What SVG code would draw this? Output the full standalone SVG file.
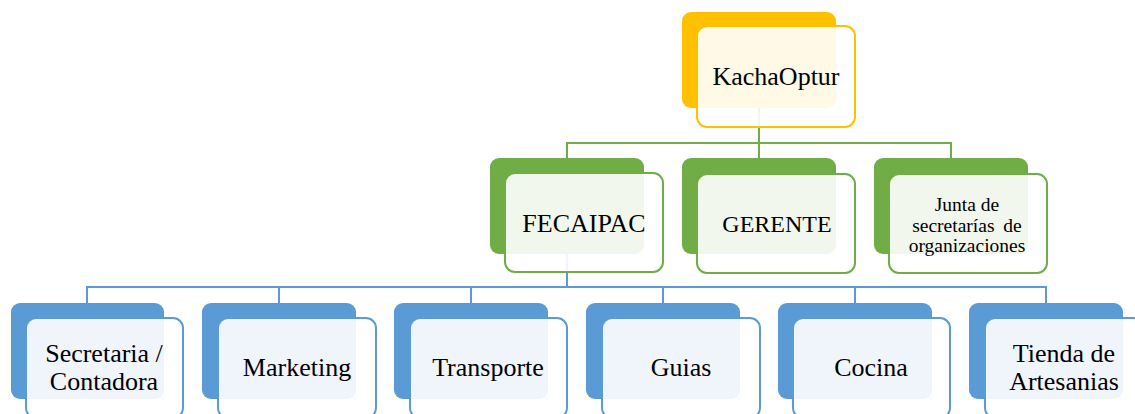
<svg xmlns="http://www.w3.org/2000/svg" width="1135" height="414" viewBox="0 0 1135 414">
<style>
.t{font-family:"Liberation Serif","Times New Roman",serif;fill:#000;text-anchor:middle}
.cg{stroke:#70AD47;stroke-width:2;fill:none}
.cb{stroke:#5B9BD5;stroke-width:2;fill:none}
.by{fill:#FFC000}
.bg{fill:#70AD47}
.bb{fill:#5B9BD5}
.fy{fill:#fff;fill-opacity:0.9;stroke:#FFC000;stroke-width:2}
.fg{fill:#fff;fill-opacity:0.9;stroke:#70AD47;stroke-width:2}
.fb{fill:#fff;fill-opacity:0.9;stroke:#5B9BD5;stroke-width:2}
</style>
<rect width="1135" height="414" fill="#fff"/>
<g id="connectors">
<path class="cg" d="M759 108V143M567 143H952M567 142V158M759 142V158M951 142V158"/>
<path class="cb" d="M567 254V287M87 287H1047M87 286V303M279 286V303M471 286V303M663 286V303M855 286V303M1046 286V303"/>
</g>
<g id="kachaoptur">
<rect class="by" x="682" y="12" width="154" height="96" rx="9"/>
<rect class="fy" x="697" y="26" width="158" height="101" rx="10"/>
<text class="t" x="776" y="85" font-size="26">KachaOptur</text>
</g>
<g id="fecaipac">
<rect class="bg" x="490" y="158" width="154" height="96" rx="9"/>
<rect class="fg" x="505" y="173" width="158" height="99" rx="10"/>
<text class="t" x="584" y="232" font-size="26">FECAIPAC</text>
</g>
<g id="gerente">
<rect class="bg" x="682" y="158" width="154" height="96" rx="9"/>
<rect class="fg" x="697" y="174" width="158" height="99" rx="10"/>
<text class="t" x="777" y="232" font-size="24">GERENTE</text>
</g>
<g id="junta">
<rect class="bg" x="874" y="158" width="154" height="96" rx="9"/>
<rect class="fg" x="889" y="174" width="158" height="99" rx="10"/>
<text class="t" x="967" y="211" font-size="19.5">Junta de</text>
<text class="t" x="967" y="232" font-size="19.5" word-spacing="4">secretarías de</text>
<text class="t" x="967" y="252" font-size="19.5">organizaciones</text>
</g>
<g id="secretaria">
<rect class="bb" x="11" y="303" width="153" height="96" rx="9"/>
<rect class="fb" x="26" y="318" width="157" height="100" rx="10"/>
<text class="t" x="104" y="362" font-size="26">Secretaria /</text>
<text class="t" x="104" y="390" font-size="26">Contadora</text>
</g>
<g id="marketing">
<rect class="bb" x="202" y="303" width="154" height="96" rx="9"/>
<rect class="fb" x="218" y="318" width="158" height="100" rx="10"/>
<text class="t" x="297" y="376" font-size="26">Marketing</text>
</g>
<g id="transporte">
<rect class="bb" x="394" y="303" width="154" height="96" rx="9"/>
<rect class="fb" x="410" y="318" width="157" height="100" rx="10"/>
<text class="t" x="488" y="376" font-size="26">Transporte</text>
</g>
<g id="guias">
<rect class="bb" x="586" y="303" width="154" height="96" rx="9"/>
<rect class="fb" x="602" y="318" width="158" height="100" rx="10"/>
<text class="t" x="681" y="376" font-size="26">Guias</text>
</g>
<g id="cocina">
<rect class="bb" x="778" y="303" width="154" height="96" rx="9"/>
<rect class="fb" x="793" y="318" width="157" height="100" rx="10"/>
<text class="t" x="871" y="376" font-size="26">Cocina</text>
</g>
<g id="tienda">
<rect class="bb" x="969" y="303" width="154" height="96" rx="9"/>
<rect class="fb" x="985" y="318" width="158" height="100" rx="10"/>
<text class="t" x="1064" y="362" font-size="26">Tienda de</text>
<text class="t" x="1064" y="390" font-size="26">Artesanias</text>
</g>
</svg>
